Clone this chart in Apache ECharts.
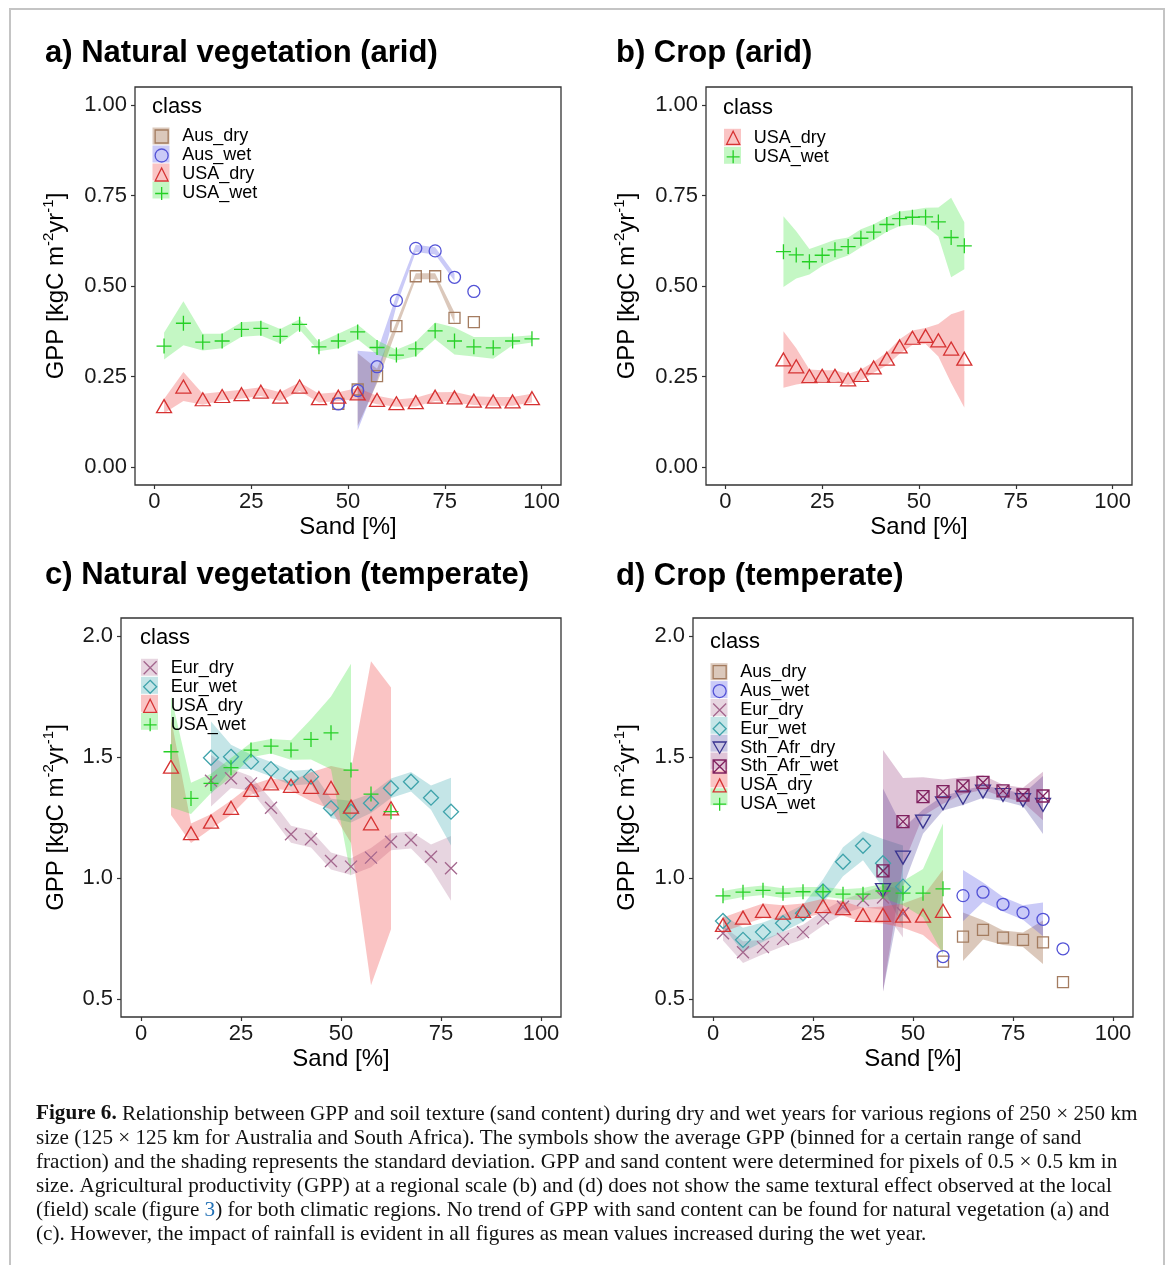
<!DOCTYPE html>
<html>
<head>
<meta charset="utf-8">
<script src="https://cdn.jsdelivr.net/npm/echarts@6/dist/echarts.min.js"></script>
<style>
  html, body { margin: 0; padding: 0; background: #fff; }
  #chart { width: 1171px; height: 1265px; }
</style>
</head>
<body>
<div id="chart"></div>
<script>
// ---- data ----
const xTicks = [0, 25, 50, 75, 100];
const yTicksArid = [0, 0.25, 0.5, 0.75, 1];
const yTicksTemp = [0.5, 1.0, 1.5, 2.0];

// a) natural vegetation (arid)
const sandA = [2.5, 7.5, 12.5, 17.5, 22.5, 27.5, 32.5, 37.5, 42.5, 47.5, 52.5, 57.5, 62.5, 67.5, 72.5, 77.5, 82.5, 87.5, 92.5, 97.5];
const sandAAus = [47.5, 52.5, 57.5, 62.5, 67.5, 72.5, 77.5, 82.5];
const aAusDry = [0.174, 0.214, 0.251, 0.389, 0.527, 0.527, 0.412, 0.400];
const aAusDrySd = [null, 0.10, 0.02, 0.012, 0.008, 0.008, 0.015, null];
const aAusWet = [0.174, 0.211, 0.277, 0.460, 0.604, 0.597, 0.524, 0.485];
const aAusWetSd = [null, 0.11, 0.04, 0.015, 0.01, 0.01, 0.01, null];
const aUsaDry = [0.168, 0.222, 0.187, 0.196, 0.201, 0.208, 0.194, 0.222, 0.190, 0.194, 0.203, 0.185, 0.176, 0.179, 0.194, 0.192, 0.183, 0.181, 0.181, 0.190];
const aUsaDrySd = [0.02, 0.04, 0.015, 0.012, 0.012, 0.012, 0.012, 0.012, 0.012, 0.012, 0.015, 0.012, 0.01, 0.012, 0.012, 0.015, 0.012, 0.012, 0.012, 0.012];
const aUsaWet = [0.334, 0.397, 0.345, 0.348, 0.380, 0.383, 0.361, 0.394, 0.332, 0.348, 0.373, 0.330, 0.309, 0.326, 0.376, 0.348, 0.332, 0.329, 0.348, 0.354];
const aUsaWetSd = [0.037, 0.061, 0.023, 0.02, 0.02, 0.02, 0.02, 0.014, 0.012, 0.02, 0.02, 0.02, 0.015, 0.02, 0.023, 0.037, 0.027, 0.03, 0.012, 0.01];

// b) crop (arid)
const sandB = [15, 18.3, 21.7, 25, 28.3, 31.7, 35, 38.3, 41.7, 45, 48.3, 51.7, 55, 58.3, 61.7];
const bUsaDry = [0.297, 0.278, 0.251, 0.252, 0.252, 0.242, 0.254, 0.275, 0.299, 0.333, 0.357, 0.362, 0.350, 0.327, 0.299];
const bUsaDrySd = [0.078, 0.05, 0.018, 0.015, 0.015, 0.015, 0.015, 0.015, 0.018, 0.02, 0.02, 0.022, 0.045, 0.095, 0.135];
const bUsaWet = [0.595, 0.586, 0.567, 0.585, 0.600, 0.609, 0.632, 0.649, 0.670, 0.686, 0.690, 0.691, 0.677, 0.634, 0.611];
const bUsaWetSd = [0.098, 0.065, 0.035, 0.03, 0.028, 0.025, 0.025, 0.022, 0.02, 0.02, 0.02, 0.025, 0.04, 0.11, 0.065];

// c) natural vegetation (temperate)
const sandCUsa = [7.5, 12.5, 17.5, 22.5, 27.5, 32.5, 37.5, 42.5, 47.5, 52.5, 57.5, 62.5];
const sandCEur = [17.5, 22.5, 27.5, 32.5, 37.5, 42.5, 47.5, 52.5, 57.5, 62.5, 67.5, 72.5, 77.5];
const cEurDry = [1.402, 1.412, 1.391, 1.290, 1.181, 1.161, 1.070, 1.047, 1.084, 1.150, 1.157, 1.088, 1.040];
const cEurDrySd = [0.106, 0.04, 0.03, 0.035, 0.035, 0.035, 0.035, 0.035, 0.04, 0.035, 0.035, 0.05, 0.134];
const cEurWet = [1.497, 1.501, 1.481, 1.450, 1.412, 1.419, 1.288, 1.274, 1.309, 1.371, 1.398, 1.332, 1.274];
const cEurWetSd = [0.15, 0.05, 0.03, 0.03, 0.03, 0.03, 0.04, 0.045, 0.04, 0.04, 0.04, 0.05, 0.14];
const cUsaDry = [1.460, 1.185, 1.233, 1.290, 1.364, 1.391, 1.381, 1.377, 1.373, 1.295, 1.226, 1.288];
const cUsaDrySd = [0.2, 0.04, 0.03, 0.03, 0.02, 0.02, 0.02, 0.06, 0.09, 0.15, 0.67, 0.5];
const cUsaWet = [1.522, 1.329, 1.391, 1.456, 1.529, 1.545, 1.529, 1.573, 1.600, 1.446, 1.347, 1.274];
const cUsaWetSd = [0.23, 0.065, 0.04, 0.04, 0.03, 0.03, 0.04, 0.083, 0.15, 0.44, null, null];

// d) crop (temperate)
const sandDUsa = [2.5, 7.5, 12.5, 17.5, 22.5, 27.5, 32.5, 37.5, 42.5, 47.5, 52.5, 57.5];
const sandDEur = [2.5, 7.5, 12.5, 17.5, 22.5, 27.5, 32.5, 37.5, 42.5, 47.5];
const sandDSa = [42.5, 47.5, 52.5, 57.5, 62.5, 67.5, 72.5, 77.5, 82.5];
const sandDAus = [57.5, 62.5, 67.5, 72.5, 77.5, 82.5, 87.5];
const dAusDry = [0.654, 0.757, 0.785, 0.753, 0.744, 0.734, 0.569];
const dAusDrySd = [null, 0.10, 0.04, 0.03, 0.03, 0.09, null];
const dAusWet = [0.675, 0.927, 0.941, 0.891, 0.857, 0.829, 0.707];
const dAusWetSd = [null, 0.106, 0.04, 0.03, 0.03, 0.07, null];
const dEurDry = [0.771, 0.693, 0.714, 0.748, 0.776, 0.833, 0.881, 0.909, 0.919, 0.854];
const dEurDrySd = [0.03, 0.045, 0.03, 0.03, 0.03, 0.03, 0.03, 0.03, 0.05, 0.1];
const dEurWet = [0.822, 0.744, 0.776, 0.813, 0.854, 0.944, 1.067, 1.133, 1.061, 0.964];
const dEurWetSd = [0.025, 0.05, 0.04, 0.035, 0.035, 0.05, 0.06, 0.06, 0.1, 0.17];
const dSaDry = [0.950, 1.084, 1.233, 1.309, 1.332, 1.357, 1.343, 1.322, 1.302];
const dSaDrySd = [0.42, 0.12, 0.05, 0.03, 0.03, 0.025, 0.025, 0.025, 0.12];
const dSaWet = [1.029, 1.233, 1.336, 1.357, 1.381, 1.395, 1.360, 1.343, 1.339];
const dSaWetSd = [0.5, 0.18, 0.08, 0.05, 0.035, 0.03, 0.025, 0.03, 0.1];
const dUsaDry = [0.806, 0.836, 0.864, 0.857, 0.864, 0.884, 0.875, 0.847, 0.847, 0.844, 0.844, 0.864];
const dUsaDrySd = [0.03, 0.03, 0.03, 0.03, 0.03, 0.03, 0.03, 0.03, 0.035, 0.05, 0.08, 0.17];
const dUsaWet = [0.926, 0.941, 0.949, 0.937, 0.943, 0.943, 0.933, 0.933, 0.946, 0.937, 0.937, 0.955];
const dUsaWetSd = [0.02, 0.02, 0.02, 0.02, 0.02, 0.02, 0.02, 0.025, 0.03, 0.05, 0.1, 0.27];

const captionLines = [
  '{b|Figure 6.} Relationship between GPP and soil texture (sand content) during dry and wet years for various regions of 250 \u00d7 250 km',
  'size (125 \u00d7 125 km for Australia and South Africa). The symbols show the average GPP (binned for a certain range of sand',
  'fraction) and the shading represents the standard deviation. GPP and sand content were determined for pixels of 0.5 \u00d7 0.5 km in',
  'size. Agricultural productivity (GPP) at a regional scale (b) and (d) does not show the same textural effect observed at the local',
  '(field) scale (figure {l|3}) for both climatic regions. No trend of GPP with sand content can be found for natural vegetation (a) and',
  '(c). However, the impact of rainfall is evident in all figures as mean values increased during the wet year.'
];

// ---- styles ----
const FONT = 'Liberation Sans, Arial, sans-serif';
const SERIF = 'Liberation Serif, Times New Roman, serif';
const COLORS = {
  Aus_dry: '#a47c60', Aus_wet: '#5252d6', Eur_dry: '#a3668d', Eur_wet: '#3fa3ab',
  Sth_Afr_dry: '#3a3590', Sth_Afr_wet: '#80215f', USA_dry: '#d63232', USA_wet: '#25d025'
};
const BANDS = {
  Aus_dry: 'rgba(160,110,75,0.38)', Aus_wet: 'rgba(90,90,230,0.32)', Eur_dry: 'rgba(165,100,140,0.27)',
  Eur_wet: 'rgba(60,170,175,0.3)', Sth_Afr_dry: 'rgba(60,50,150,0.28)', Sth_Afr_wet: 'rgba(140,40,110,0.27)',
  USA_dry: 'rgba(240,70,70,0.32)', USA_wet: 'rgba(60,230,60,0.3)'
};
const SYMBOLS = {
  Aus_dry: 'rect', Aus_wet: 'circle', Eur_dry: 'path://M0 0L10 10M10 0L0 10', Eur_wet: 'diamond',
  Sth_Afr_dry: 'path://M0 0L10 0L5 8.7Z', Sth_Afr_wet: 'path://M0 0H10V10H0ZM0 0L10 10M10 0L0 10',
  USA_dry: 'triangle', USA_wet: 'path://M5 0V10M0 5H10'
};
const SIZES = {
  Aus_dry: 11, Aus_wet: 12, Eur_dry: 12, Eur_wet: 15, Sth_Afr_dry: [15, 13], Sth_Afr_wet: 12,
  USA_dry: [15, 13], USA_wet: 15
};

function ribbon(tag, cls, gi, xs, ys, sds) {
  return {
    type: 'custom', name: tag + ':' + cls, xAxisIndex: gi, yAxisIndex: gi, z: 1, silent: true,
    itemStyle: { color: BANDS[cls] },
    data: xs.map((x, i) => [x, ys[i]]),
    renderItem: function (params, api) {
      if (params.dataIndex !== 0) return null;
      const children = [];
      let run = [];
      const flush = () => {
        if (run.length > 1) {
          const up = run.map(i => api.coord([xs[i], ys[i] + sds[i]]));
          const lo = run.map(i => api.coord([xs[i], ys[i] - sds[i]])).reverse();
          children.push({ type: 'polygon', shape: { points: up.concat(lo) }, style: { fill: BANDS[cls] } });
        }
        run = [];
      };
      xs.forEach((x, i) => { if (sds[i] == null) flush(); else run.push(i); });
      flush();
      return { type: 'group', children: children };
    }
  };
}

function points(cls, gi, xs, ys) {
  return {
    type: 'scatter', name: cls, xAxisIndex: gi, yAxisIndex: gi, z: 3,
    data: xs.map((x, i) => [x, ys[i]]),
    symbol: SYMBOLS[cls], symbolSize: SIZES[cls],
    itemStyle: { color: 'rgba(255,255,255,0)', borderColor: COLORS[cls], borderWidth: 1.3, opacity: 1 },
    emphasis: { disabled: true }
  };
}

const series = [
  ribbon('a', 'Aus_dry', 0, sandAAus, aAusDry, aAusDrySd),
  ribbon('a', 'Aus_wet', 0, sandAAus, aAusWet, aAusWetSd),
  ribbon('a', 'USA_dry', 0, sandA, aUsaDry, aUsaDrySd),
  ribbon('a', 'USA_wet', 0, sandA, aUsaWet, aUsaWetSd),
  ribbon('b', 'USA_dry', 1, sandB, bUsaDry, bUsaDrySd),
  ribbon('b', 'USA_wet', 1, sandB, bUsaWet, bUsaWetSd),
  ribbon('c', 'Eur_dry', 2, sandCEur, cEurDry, cEurDrySd),
  ribbon('c', 'Eur_wet', 2, sandCEur, cEurWet, cEurWetSd),
  ribbon('c', 'USA_dry', 2, sandCUsa, cUsaDry, cUsaDrySd),
  ribbon('c', 'USA_wet', 2, sandCUsa, cUsaWet, cUsaWetSd),
  ribbon('d', 'Aus_dry', 3, sandDAus, dAusDry, dAusDrySd),
  ribbon('d', 'Aus_wet', 3, sandDAus, dAusWet, dAusWetSd),
  ribbon('d', 'Eur_dry', 3, sandDEur, dEurDry, dEurDrySd),
  ribbon('d', 'Eur_wet', 3, sandDEur, dEurWet, dEurWetSd),
  ribbon('d', 'Sth_Afr_dry', 3, sandDSa, dSaDry, dSaDrySd),
  ribbon('d', 'Sth_Afr_wet', 3, sandDSa, dSaWet, dSaWetSd),
  ribbon('d', 'USA_dry', 3, sandDUsa, dUsaDry, dUsaDrySd),
  ribbon('d', 'USA_wet', 3, sandDUsa, dUsaWet, dUsaWetSd),

  points('Aus_dry', 0, sandAAus, aAusDry),
  points('Aus_wet', 0, sandAAus, aAusWet),
  points('USA_dry', 0, sandA, aUsaDry),
  points('USA_wet', 0, sandA, aUsaWet),
  points('USA_dry', 1, sandB, bUsaDry),
  points('USA_wet', 1, sandB, bUsaWet),
  points('Eur_dry', 2, sandCEur, cEurDry),
  points('Eur_wet', 2, sandCEur, cEurWet),
  points('USA_dry', 2, sandCUsa, cUsaDry),
  points('USA_wet', 2, sandCUsa, cUsaWet),
  points('Aus_dry', 3, sandDAus, dAusDry),
  points('Aus_wet', 3, sandDAus, dAusWet),
  points('Eur_dry', 3, sandDEur, dEurDry),
  points('Eur_wet', 3, sandDEur, dEurWet),
  points('Sth_Afr_dry', 3, sandDSa, dSaDry),
  points('Sth_Afr_wet', 3, sandDSa, dSaWet),
  points('USA_dry', 3, sandDUsa, dUsaDry),
  points('USA_wet', 3, sandDUsa, dUsaWet)
];

// ---- layout ----
const grids = [
  { left: 135, top: 87, width: 426, height: 398 },
  { left: 706, top: 87, width: 426, height: 398 },
  { left: 121, top: 618, width: 440, height: 399 },
  { left: 693, top: 618, width: 440, height: 399 }
].map(g => Object.assign(g, { show: true, borderColor: '#333', borderWidth: 1.3, backgroundColor: '#fff' }));

const xAxes = grids.map((g, i) => ({
  type: 'value', gridIndex: i, min: -5, max: 105, position: 'bottom',
  name: 'Sand [%]', nameLocation: 'middle', nameGap: 30,
  nameTextStyle: { fontFamily: FONT, fontSize: 24, color: '#000' },
  axisLine: { show: false, onZero: false },
  axisTick: { customValues: xTicks, length: 4, lineStyle: { color: '#333', width: 1.2 } },
  axisLabel: { customValues: xTicks, margin: 6, fontFamily: FONT, fontSize: 22, color: '#1a1a1a' },
  splitLine: { show: false }
}));

const gppName = '{b|GPP [kgC m}{s|-2}{b|yr}{s|-1}{b|]}';
const gppRich = {
  b: { fontFamily: FONT, fontSize: 24, color: '#000', verticalAlign: 'bottom' },
  s: { fontFamily: FONT, fontSize: 15, color: '#000', verticalAlign: 'top', padding: [0, 0, 12, 0] }
};
const yAxes = grids.map((g, i) => {
  const arid = i < 2;
  return {
    type: 'value', gridIndex: i, position: 'left',
    min: arid ? -0.05 : 0.425, max: arid ? 1.05 : 2.075,
    name: gppName, nameLocation: 'middle', nameRotate: 90, nameGap: (i % 2 === 0) ? (arid ? 67 : 53) : (arid ? 67 : 54),
    nameTextStyle: { rich: gppRich },
    axisLine: { show: false, onZero: false },
    axisTick: { customValues: arid ? yTicksArid : yTicksTemp, length: 4, lineStyle: { color: '#333', width: 1.2 } },
    axisLabel: {
      customValues: arid ? yTicksArid : yTicksTemp, margin: 8, fontFamily: FONT, fontSize: 22, color: '#1a1a1a',
      formatter: v => v.toFixed(arid ? 2 : 1)
    },
    splitLine: { show: false }
  };
});

// two overlaid legends per panel: shaded key boxes underneath, point symbols + labels on top
const legendDefs = [
  { tag: 'a', cls: ['Aus_dry', 'Aus_wet', 'USA_dry', 'USA_wet'], left: 152.5, top: 127.5, gap: 1 },
  { tag: 'b', cls: ['USA_dry', 'USA_wet'], left: 724, top: 128.8, gap: 1 },
  { tag: 'c', cls: ['Eur_dry', 'Eur_wet', 'USA_dry', 'USA_wet'], left: 141, top: 658.8, gap: 1 },
  { tag: 'd', cls: ['Aus_dry', 'Aus_wet', 'Eur_dry', 'Eur_wet', 'Sth_Afr_dry', 'Sth_Afr_wet', 'USA_dry', 'USA_wet'], left: 710.5, top: 663.2, gap: 0.86 }
];
const legends = [];
legendDefs.forEach(L => {
  legends.push({
    orient: 'vertical', left: L.left, top: L.top, padding: 0, itemGap: L.gap, selectedMode: false,
    itemWidth: 17, itemHeight: 17, formatter: () => '',
    data: L.cls.map(c => ({ name: L.tag + ':' + c, icon: 'rect', itemStyle: { color: BANDS[c], borderWidth: 0 } }))
  });
  legends.push({
    orient: 'vertical', left: L.left + 2, top: L.top, padding: 0, itemGap: L.gap, selectedMode: false,
    itemWidth: 13, itemHeight: 13,
    itemStyle: { borderWidth: 1.3 },
    textStyle: { fontFamily: FONT, fontSize: 18, color: '#000', lineHeight: 17, padding: [0, 0, 0, 9] },
    data: L.cls
  });
});

// caption font size fitted to the width of the first printed line
const ctx = document.createElement('canvas').getContext('2d');
ctx.font = 'bold 18px ' + SERIF;
let w = ctx.measureText('Figure 6.').width;
ctx.font = '18px ' + SERIF;
w += ctx.measureText(captionLines[0].replace('{b|Figure 6.}', '')).width;
const capSize = 18 * 1102 / w;
const capLineY = [1114, 1138, 1162, 1186, 1210, 1234];

const textEl = (t, x, y, size, weight) => ({
  type: 'text', x: x, y: y, silent: true,
  style: { text: t, fontFamily: FONT, fontSize: size, fontWeight: weight || 'normal', fill: '#000', verticalAlign: 'middle' }
});

const graphics = [
  { type: 'polyline', silent: true, shape: { points: [[10, 1265], [10, 9], [1164, 9], [1164, 1265]] },
    style: { stroke: '#c4c4c4', lineWidth: 2, fill: null } },
  textEl('a) Natural vegetation (arid)', 45, 53, 31, 'bold'),
  textEl('b) Crop (arid)', 616, 53, 31, 'bold'),
  textEl('c) Natural vegetation (temperate)', 45, 575, 31, 'bold'),
  textEl('d) Crop (temperate)', 616, 576, 31, 'bold'),
  textEl('class', 152, 107, 22),
  textEl('class', 723, 108, 22),
  textEl('class', 140, 638, 22),
  textEl('class', 710, 642, 22)
];
captionLines.forEach((line, i) => {
  graphics.push({
    type: 'text', x: 36, y: capLineY[i], silent: true,
    style: {
      text: line, fontFamily: SERIF, fontSize: capSize, fill: '#111', verticalAlign: 'middle',
      rich: {
        b: { fontFamily: SERIF, fontSize: capSize, fontWeight: 'bold', fill: '#111' },
        l: { fontFamily: SERIF, fontSize: capSize, fill: '#1f6fb5' }
      }
    }
  });
});

const chart = echarts.init(document.getElementById('chart'), null, { renderer: 'canvas' });
chart.setOption({
  animation: false,
  backgroundColor: '#fff',
  grid: grids,
  xAxis: xAxes,
  yAxis: yAxes,
  legend: legends,
  series: series,
  graphic: graphics
});
</script>
</body>
</html>
